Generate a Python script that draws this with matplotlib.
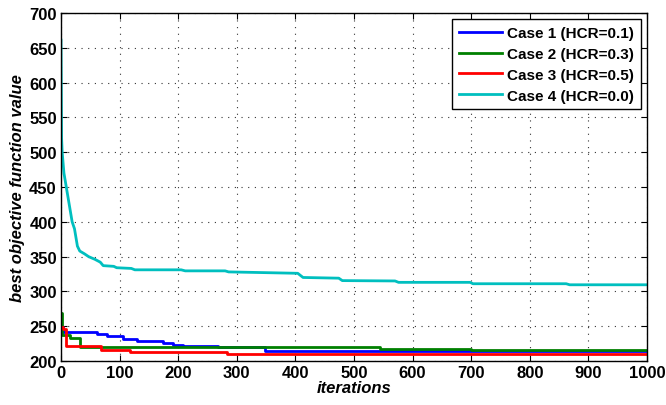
import matplotlib
matplotlib.use("Agg")
import matplotlib.pyplot as plt

plt.rcParams['font.family'] = ['Liberation Sans', 'DejaVu Sans']
plt.rcParams['font.weight'] = 'bold'

# change points of the best value (iteration, value), drawn as steps
case1_it = [0, 3, 61, 78, 106, 129, 174, 191, 209, 268, 348, 1000]
case1_val = [249, 242, 239, 235.5, 231.5, 228.5, 226, 223, 222, 219.5, 214.5, 214.5]

case2_it = [0, 2, 16, 32, 544, 700, 1000]
case2_val = [269, 237, 233, 220, 217.5, 215.5, 215.5]

case3_it = [0, 4, 8, 69, 118, 283, 1000]
case3_val = [249, 246, 221, 216.5, 213.5, 210.5, 210.5]

# case 4 is read as a polyline
case4_it = [0, 1, 2, 5, 10, 15, 19, 23, 28, 32, 40, 47, 58, 67, 72, 90, 95, 120,
            126, 205, 212, 280, 286, 404, 413, 474, 480, 570, 576, 698, 703,
            862, 868, 1000]
case4_val = [661, 520, 500, 470, 445, 420, 400, 390, 365, 358, 354, 350, 346,
             342, 337, 336, 334, 333, 331, 331, 329.5, 329.5, 328, 326, 320,
             319, 315.5, 315, 313, 313, 311, 311, 309.5, 309.5]

labels = ['Case 1 (HCR=0.1)', 'Case 2 (HCR=0.3)', 'Case 3 (HCR=0.5)', 'Case 4 (HCR=0.0)']
colors = ['#0000ff', '#008000', '#ff0000', '#00bfbf']

fig = plt.figure(figsize=(6.66, 4.06), dpi=100)
ax = fig.add_axes([0.0916, 0.1084, 0.8799, 0.8571])

ax.plot(case1_it, case1_val, drawstyle='steps-post', color=colors[0], lw=2, label=labels[0])
ax.plot(case2_it, case2_val, drawstyle='steps-post', color=colors[1], lw=2, label=labels[1])
ax.plot(case3_it, case3_val, drawstyle='steps-post', color=colors[2], lw=2, label=labels[2])
ax.plot(case4_it, case4_val, color=colors[3], lw=2, label=labels[3])

ax.set_xlim(0, 1000)
ax.set_ylim(200, 700)
ax.set_xticks(range(0, 1001, 100))
ax.set_yticks(range(200, 701, 50))
ax.tick_params(direction='in', top=True, right=True, labelsize=12, length=4, pad=3)
ax.grid(True, color='#333333', linestyle=(0, (1, 5)), lw=0.8)
for sp in ax.spines.values():
    sp.set_linewidth(1)

ax.set_xlabel('iterations', fontsize=12, fontweight='bold', style='italic', labelpad=0)
ax.set_ylabel('best objective function value', fontsize=12, fontweight='bold',
              style='italic', labelpad=3)

leg = ax.legend(loc='upper right', fontsize=11, handlelength=2.8, handletextpad=0.35,
                fancybox=False, edgecolor='black', framealpha=1, borderaxespad=0.4,
                labelspacing=0.45, borderpad=0.45)
leg.get_frame().set_linewidth(1)

fig.savefig('out.png', dpi=100)
